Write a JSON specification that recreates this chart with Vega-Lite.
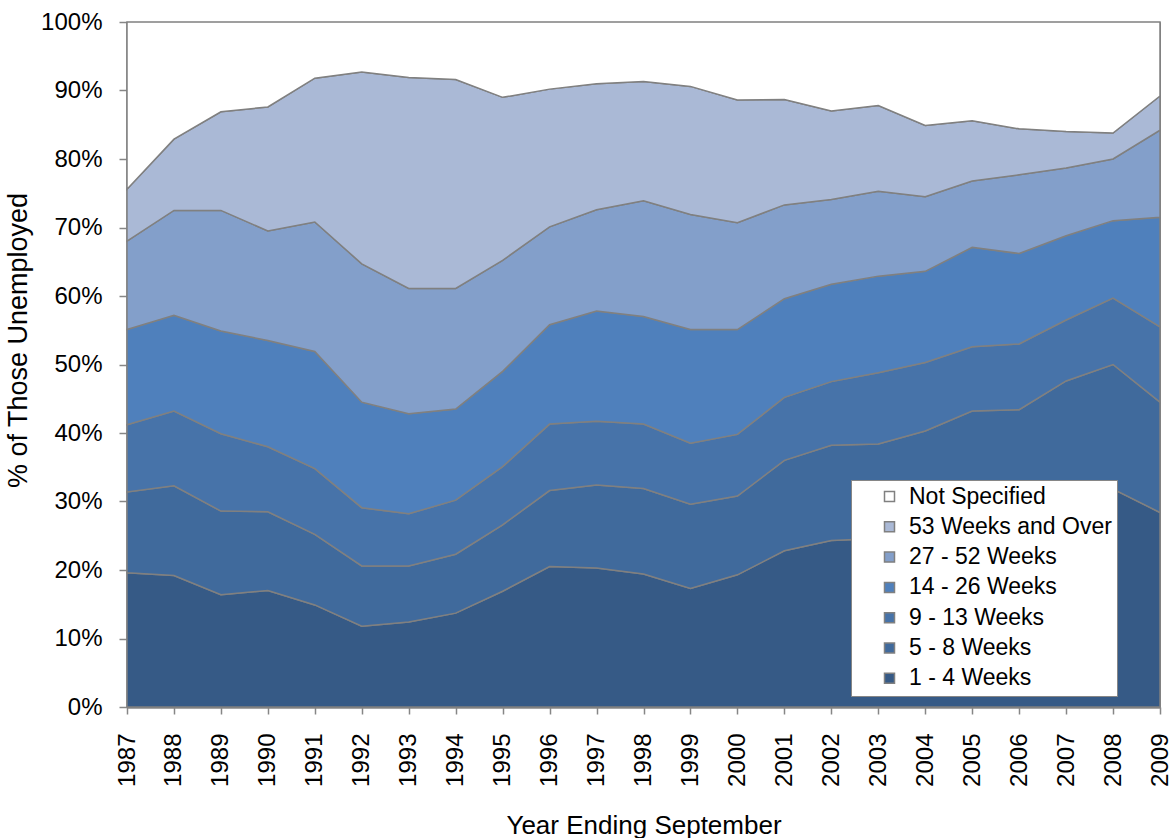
{
  "$schema": "https://vega.github.io/schema/vega-lite/v6.json",
  "width": 1033,
  "height": 685,
  "autosize": {"type": "none"},
  "padding": {"left": 127, "top": 22, "right": 14, "bottom": 131},
  "background": "white",
  "config": {
    "font": "Liberation Sans",
    "view": {"stroke": "#868686", "strokeWidth": 1}
  },
  "data": {
    "values": [
      {"Year": 1987, "1 - 4 Weeks": 19.6, "5 - 8 Weeks": 11.8, "9 - 13 Weeks": 9.8, "14 - 26 Weeks": 13.9, "27 - 52 Weeks": 12.9, "53 Weeks and Over": 7.6, "Not Specified": 24.4},
      {"Year": 1988, "1 - 4 Weeks": 19.2, "5 - 8 Weeks": 13.1, "9 - 13 Weeks": 10.9, "14 - 26 Weeks": 14.0, "27 - 52 Weeks": 15.3, "53 Weeks and Over": 10.4, "Not Specified": 17.1},
      {"Year": 1989, "1 - 4 Weeks": 16.4, "5 - 8 Weeks": 12.2, "9 - 13 Weeks": 11.3, "14 - 26 Weeks": 15.0, "27 - 52 Weeks": 17.6, "53 Weeks and Over": 14.4, "Not Specified": 13.1},
      {"Year": 1990, "1 - 4 Weeks": 17.0, "5 - 8 Weeks": 11.5, "9 - 13 Weeks": 9.5, "14 - 26 Weeks": 15.5, "27 - 52 Weeks": 16.0, "53 Weeks and Over": 18.1, "Not Specified": 12.4},
      {"Year": 1991, "1 - 4 Weeks": 14.9, "5 - 8 Weeks": 10.3, "9 - 13 Weeks": 9.6, "14 - 26 Weeks": 17.1, "27 - 52 Weeks": 18.9, "53 Weeks and Over": 21.0, "Not Specified": 8.2},
      {"Year": 1992, "1 - 4 Weeks": 11.8, "5 - 8 Weeks": 8.8, "9 - 13 Weeks": 8.5, "14 - 26 Weeks": 15.4, "27 - 52 Weeks": 20.2, "53 Weeks and Over": 28.0, "Not Specified": 7.3},
      {"Year": 1993, "1 - 4 Weeks": 12.4, "5 - 8 Weeks": 8.2, "9 - 13 Weeks": 7.6, "14 - 26 Weeks": 14.6, "27 - 52 Weeks": 18.3, "53 Weeks and Over": 30.8, "Not Specified": 8.1},
      {"Year": 1994, "1 - 4 Weeks": 13.7, "5 - 8 Weeks": 8.6, "9 - 13 Weeks": 7.9, "14 - 26 Weeks": 13.3, "27 - 52 Weeks": 17.6, "53 Weeks and Over": 30.5, "Not Specified": 8.4},
      {"Year": 1995, "1 - 4 Weeks": 16.9, "5 - 8 Weeks": 9.7, "9 - 13 Weeks": 8.5, "14 - 26 Weeks": 13.9, "27 - 52 Weeks": 16.2, "53 Weeks and Over": 23.8, "Not Specified": 11.0},
      {"Year": 1996, "1 - 4 Weeks": 20.5, "5 - 8 Weeks": 11.1, "9 - 13 Weeks": 9.7, "14 - 26 Weeks": 14.5, "27 - 52 Weeks": 14.3, "53 Weeks and Over": 20.1, "Not Specified": 9.8},
      {"Year": 1997, "1 - 4 Weeks": 20.3, "5 - 8 Weeks": 12.1, "9 - 13 Weeks": 9.3, "14 - 26 Weeks": 16.1, "27 - 52 Weeks": 14.8, "53 Weeks and Over": 18.4, "Not Specified": 9.0},
      {"Year": 1998, "1 - 4 Weeks": 19.4, "5 - 8 Weeks": 12.5, "9 - 13 Weeks": 9.4, "14 - 26 Weeks": 15.7, "27 - 52 Weeks": 16.9, "53 Weeks and Over": 17.4, "Not Specified": 8.7},
      {"Year": 1999, "1 - 4 Weeks": 17.3, "5 - 8 Weeks": 12.3, "9 - 13 Weeks": 8.9, "14 - 26 Weeks": 16.6, "27 - 52 Weeks": 16.8, "53 Weeks and Over": 18.7, "Not Specified": 9.4},
      {"Year": 2000, "1 - 4 Weeks": 19.3, "5 - 8 Weeks": 11.5, "9 - 13 Weeks": 9.0, "14 - 26 Weeks": 15.3, "27 - 52 Weeks": 15.6, "53 Weeks and Over": 17.9, "Not Specified": 11.4},
      {"Year": 2001, "1 - 4 Weeks": 22.8, "5 - 8 Weeks": 13.2, "9 - 13 Weeks": 9.2, "14 - 26 Weeks": 14.4, "27 - 52 Weeks": 13.7, "53 Weeks and Over": 15.4, "Not Specified": 11.3},
      {"Year": 2002, "1 - 4 Weeks": 24.3, "5 - 8 Weeks": 13.9, "9 - 13 Weeks": 9.3, "14 - 26 Weeks": 14.2, "27 - 52 Weeks": 12.4, "53 Weeks and Over": 12.9, "Not Specified": 13.0},
      {"Year": 2003, "1 - 4 Weeks": 24.6, "5 - 8 Weeks": 13.8, "9 - 13 Weeks": 10.4, "14 - 26 Weeks": 14.1, "27 - 52 Weeks": 12.4, "53 Weeks and Over": 12.5, "Not Specified": 12.2},
      {"Year": 2004, "1 - 4 Weeks": 25.3, "5 - 8 Weeks": 15.0, "9 - 13 Weeks": 10.0, "14 - 26 Weeks": 13.3, "27 - 52 Weeks": 10.9, "53 Weeks and Over": 10.4, "Not Specified": 15.1},
      {"Year": 2005, "1 - 4 Weeks": 27.0, "5 - 8 Weeks": 16.2, "9 - 13 Weeks": 9.4, "14 - 26 Weeks": 14.5, "27 - 52 Weeks": 9.7, "53 Weeks and Over": 8.8, "Not Specified": 14.4},
      {"Year": 2006, "1 - 4 Weeks": 27.8, "5 - 8 Weeks": 15.6, "9 - 13 Weeks": 9.6, "14 - 26 Weeks": 13.2, "27 - 52 Weeks": 11.5, "53 Weeks and Over": 6.7, "Not Specified": 15.6},
      {"Year": 2007, "1 - 4 Weeks": 29.8, "5 - 8 Weeks": 17.8, "9 - 13 Weeks": 8.9, "14 - 26 Weeks": 12.3, "27 - 52 Weeks": 9.9, "53 Weeks and Over": 5.3, "Not Specified": 16.0},
      {"Year": 2008, "1 - 4 Weeks": 31.8, "5 - 8 Weeks": 18.2, "9 - 13 Weeks": 9.7, "14 - 26 Weeks": 11.3, "27 - 52 Weeks": 9.0, "53 Weeks and Over": 3.8, "Not Specified": 16.2},
      {"Year": 2009, "1 - 4 Weeks": 28.4, "5 - 8 Weeks": 16.1, "9 - 13 Weeks": 11.0, "14 - 26 Weeks": 16.0, "27 - 52 Weeks": 12.7, "53 Weeks and Over": 5.0, "Not Specified": 10.8}
    ]
  },
  "transform": [
    {"fold": ["1 - 4 Weeks", "5 - 8 Weeks", "9 - 13 Weeks", "14 - 26 Weeks", "27 - 52 Weeks", "53 Weeks and Over", "Not Specified"], "as": ["Duration", "Pct"]},
    {"calculate": "indexof(['1 - 4 Weeks', '5 - 8 Weeks', '9 - 13 Weeks', '14 - 26 Weeks', '27 - 52 Weeks', '53 Weeks and Over', 'Not Specified'], datum.Duration)", "as": "rank"}
  ],
  "mark": {"type": "area", "interpolate": "linear", "stroke": "#808080", "strokeWidth": 1.5, "opacity": 1},
  "encoding": {
    "x": {
      "field": "Year",
      "type": "quantitative",
      "scale": {"domain": [1987, 2009], "nice": false, "zero": false},
      "axis": {
        "values": [1987, 1988, 1989, 1990, 1991, 1992, 1993, 1994, 1995, 1996, 1997, 1998, 1999, 2000, 2001, 2002, 2003, 2004, 2005, 2006, 2007, 2008, 2009],
        "format": "d",
        "labelAngle": -90,
        "labelFontSize": 24,
        "labelColor": "black",
        "labelPadding": 19,
        "labelFlush": false,
        "labelOverlap": false,
        "labelBound": false,
        "tickSize": 7,
        "tickColor": "#868686",
        "tickWidth": 1.5,
        "domainColor": "#868686",
        "domainWidth": 2.5,
        "grid": false,
        "title": "Year Ending September",
        "titleFontSize": 26,
        "titleFontWeight": "normal",
        "titleColor": "black",
        "titleY": 126,
        "titleBaseline": "alphabetic"
      }
    },
    "y": {
      "field": "Pct",
      "type": "quantitative",
      "stack": "zero",
      "scale": {"domain": [0, 100], "nice": false},
      "axis": {
        "values": [0, 10, 20, 30, 40, 50, 60, 70, 80, 90, 100],
        "labelExpr": "datum.value + '%'",
        "labelFontSize": 24,
        "labelColor": "black",
        "labelPadding": 17,
        "labelFlush": false,
        "labelOverlap": false,
        "tickSize": 8,
        "tickColor": "#868686",
        "tickWidth": 1.5,
        "domainColor": "#868686",
        "domainWidth": 2.5,
        "grid": false,
        "title": "% of Those Unemployed",
        "titleFontSize": 27,
        "titleFontWeight": "normal",
        "titleColor": "black",
        "titleAngle": 270,
        "titleAlign": "center",
        "titleBaseline": "alphabetic",
        "titleX": -101,
        "titleY": 318
      }
    },
    "color": {
      "field": "Duration",
      "type": "nominal",
      "scale": {
        "domain": ["Not Specified", "53 Weeks and Over", "27 - 52 Weeks", "14 - 26 Weeks", "9 - 13 Weeks", "5 - 8 Weeks", "1 - 4 Weeks"],
        "range": ["#FFFFFF", "#AAB9D6", "#839FCA", "#4F80BC", "#4773A9", "#406A9C", "#365A86"]
      },
      "legend": {
        "title": null,
        "orient": "none",
        "legendX": 724,
        "legendY": 458,
        "fillColor": "white",
        "strokeColor": "#868686",
        "padding": 5,
        "symbolType": "square",
        "symbolSize": 100,
        "symbolStrokeColor": "#808080",
        "symbolStrokeWidth": 1.5,
        "symbolOpacity": 1,
        "symbolOffset": 22,
        "labelFontSize": 23,
        "labelColor": "black",
        "labelOffset": 8,
        "labelLimit": 400,
        "rowPadding": 6.3
      }
    },
    "order": {"field": "rank", "type": "quantitative"}
  }
}
